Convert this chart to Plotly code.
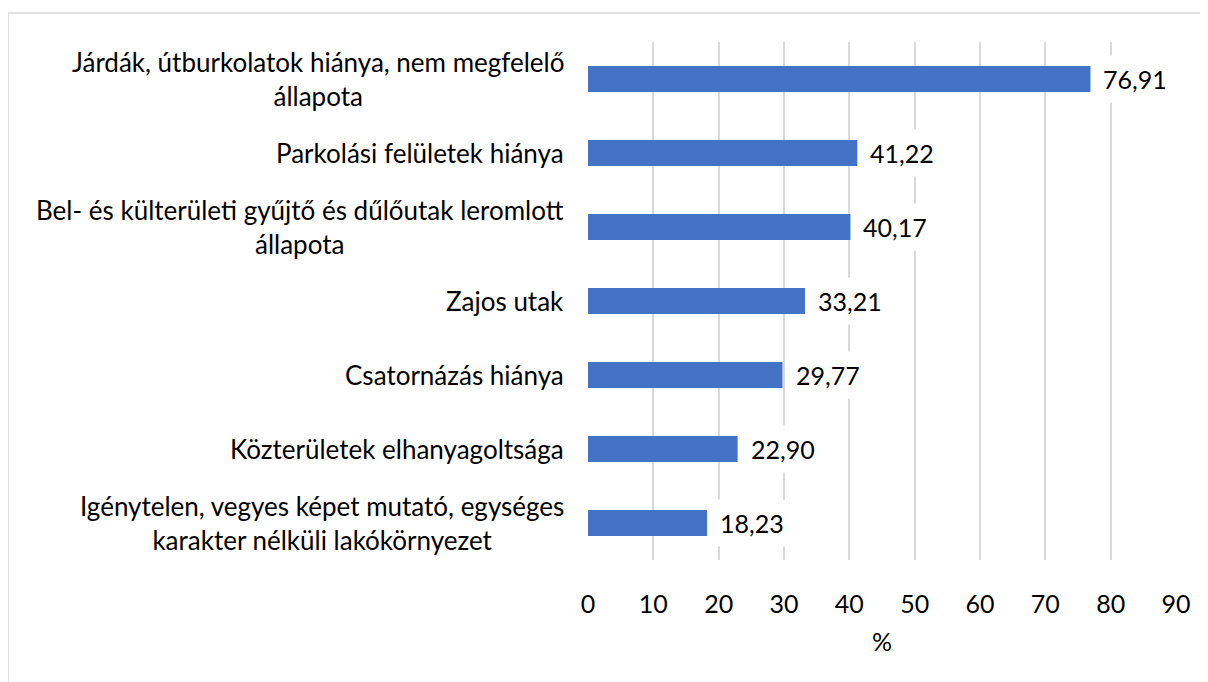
import plotly.graph_objects as go

categories = [
    "Járdák, útburkolatok hiánya, nem megfelelő<br>állapota",
    "Parkolási felületek hiánya",
    "Bel- és külterületi gyűjtő és dűlőutak leromlott<br>állapota",
    "Zajos utak",
    "Csatornázás hiánya",
    "Közterületek elhanyagoltsága",
    "Igénytelen, vegyes képet mutató, egységes<br>karakter nélküli lakókörnyezet",
]
values = [76.91, 41.22, 40.17, 33.21, 29.77, 22.90, 18.23]
x_ticks = [0, 10, 20, 30, 40, 50, 60, 70, 80, 90]
x_title = "%"

FONT = "Lato"
FS = 26
FSN = 25
BAR = "#4472C4"
GRID = "#D9D9D9"
TXT = "#000000"

# page body adds an 8px offset
W, H = 1200, 674
ML, MR, MT, MB = 580, 32, 34, 122
pw, ph = W - ML - MR, H - MT - MB

fig = go.Figure()
fig.add_trace(go.Bar(
    x=values, y=categories, orientation="h",
    marker=dict(color=BAR, line=dict(width=0)),
    width=0.35, hoverinfo="skip",
))

annotations = []
for c, v in zip(categories, values):
    annotations.append(dict(
        x=v, y=c, xref="x", yref="y", xanchor="left", yanchor="middle",
        text=f"{v:.2f}".replace(".", ","), showarrow=False,
        xshift=4, bgcolor="white", borderpad=8,
        font=dict(family=FONT, size=FSN, color=TXT),
    ))
    annotations.append(dict(
        x=0, y=c, xref="paper", yref="y", xanchor="right", yanchor="middle",
        text=c, showarrow=False, align="center", xshift=-22,
        font=dict(family=FONT, size=FS, color=TXT),
    ))

bx0 = (0 - ML) / pw
bx1 = (W + 20 - ML) / pw
by0 = -(H + 20 - MT - ph) / ph
by1 = 1 + (MT - 5) / ph
border = dict(color=GRID, width=1.5)

fig.update_layout(
    width=W, height=H,
    margin=dict(l=ML, r=MR, t=MT, b=MB, pad=0),
    paper_bgcolor="white", plot_bgcolor="white",
    showlegend=False,
    font=dict(family=FONT, size=FSN, color=TXT),
    xaxis=dict(
        range=[0, 90], tickvals=x_ticks, ticktext=[str(t) for t in x_ticks],
        showgrid=True, gridcolor=GRID, gridwidth=1.5,
        zeroline=False, showline=False, ticks="",
        ticklabelstandoff=27,
        tickfont=dict(family=FONT, size=FSN, color=TXT),
        title=dict(text=x_title, standoff=16, font=dict(family=FONT, size=FSN, color=TXT)),
        fixedrange=True,
    ),
    yaxis=dict(
        autorange="reversed", showticklabels=False, showgrid=False,
        zeroline=False, showline=False, ticks="", fixedrange=True,
    ),
    annotations=annotations,
    shapes=[
        dict(type="line", xref="paper", yref="paper", x0=bx0, x1=bx1, y0=by1, y1=by1,
             line=border, layer="below"),
        dict(type="line", xref="paper", yref="paper", x0=bx0, x1=bx0, y0=by0, y1=by1,
             line=border, layer="below"),
    ],
)

fig.write_html("out.html", config={"displayModeBar": False})
